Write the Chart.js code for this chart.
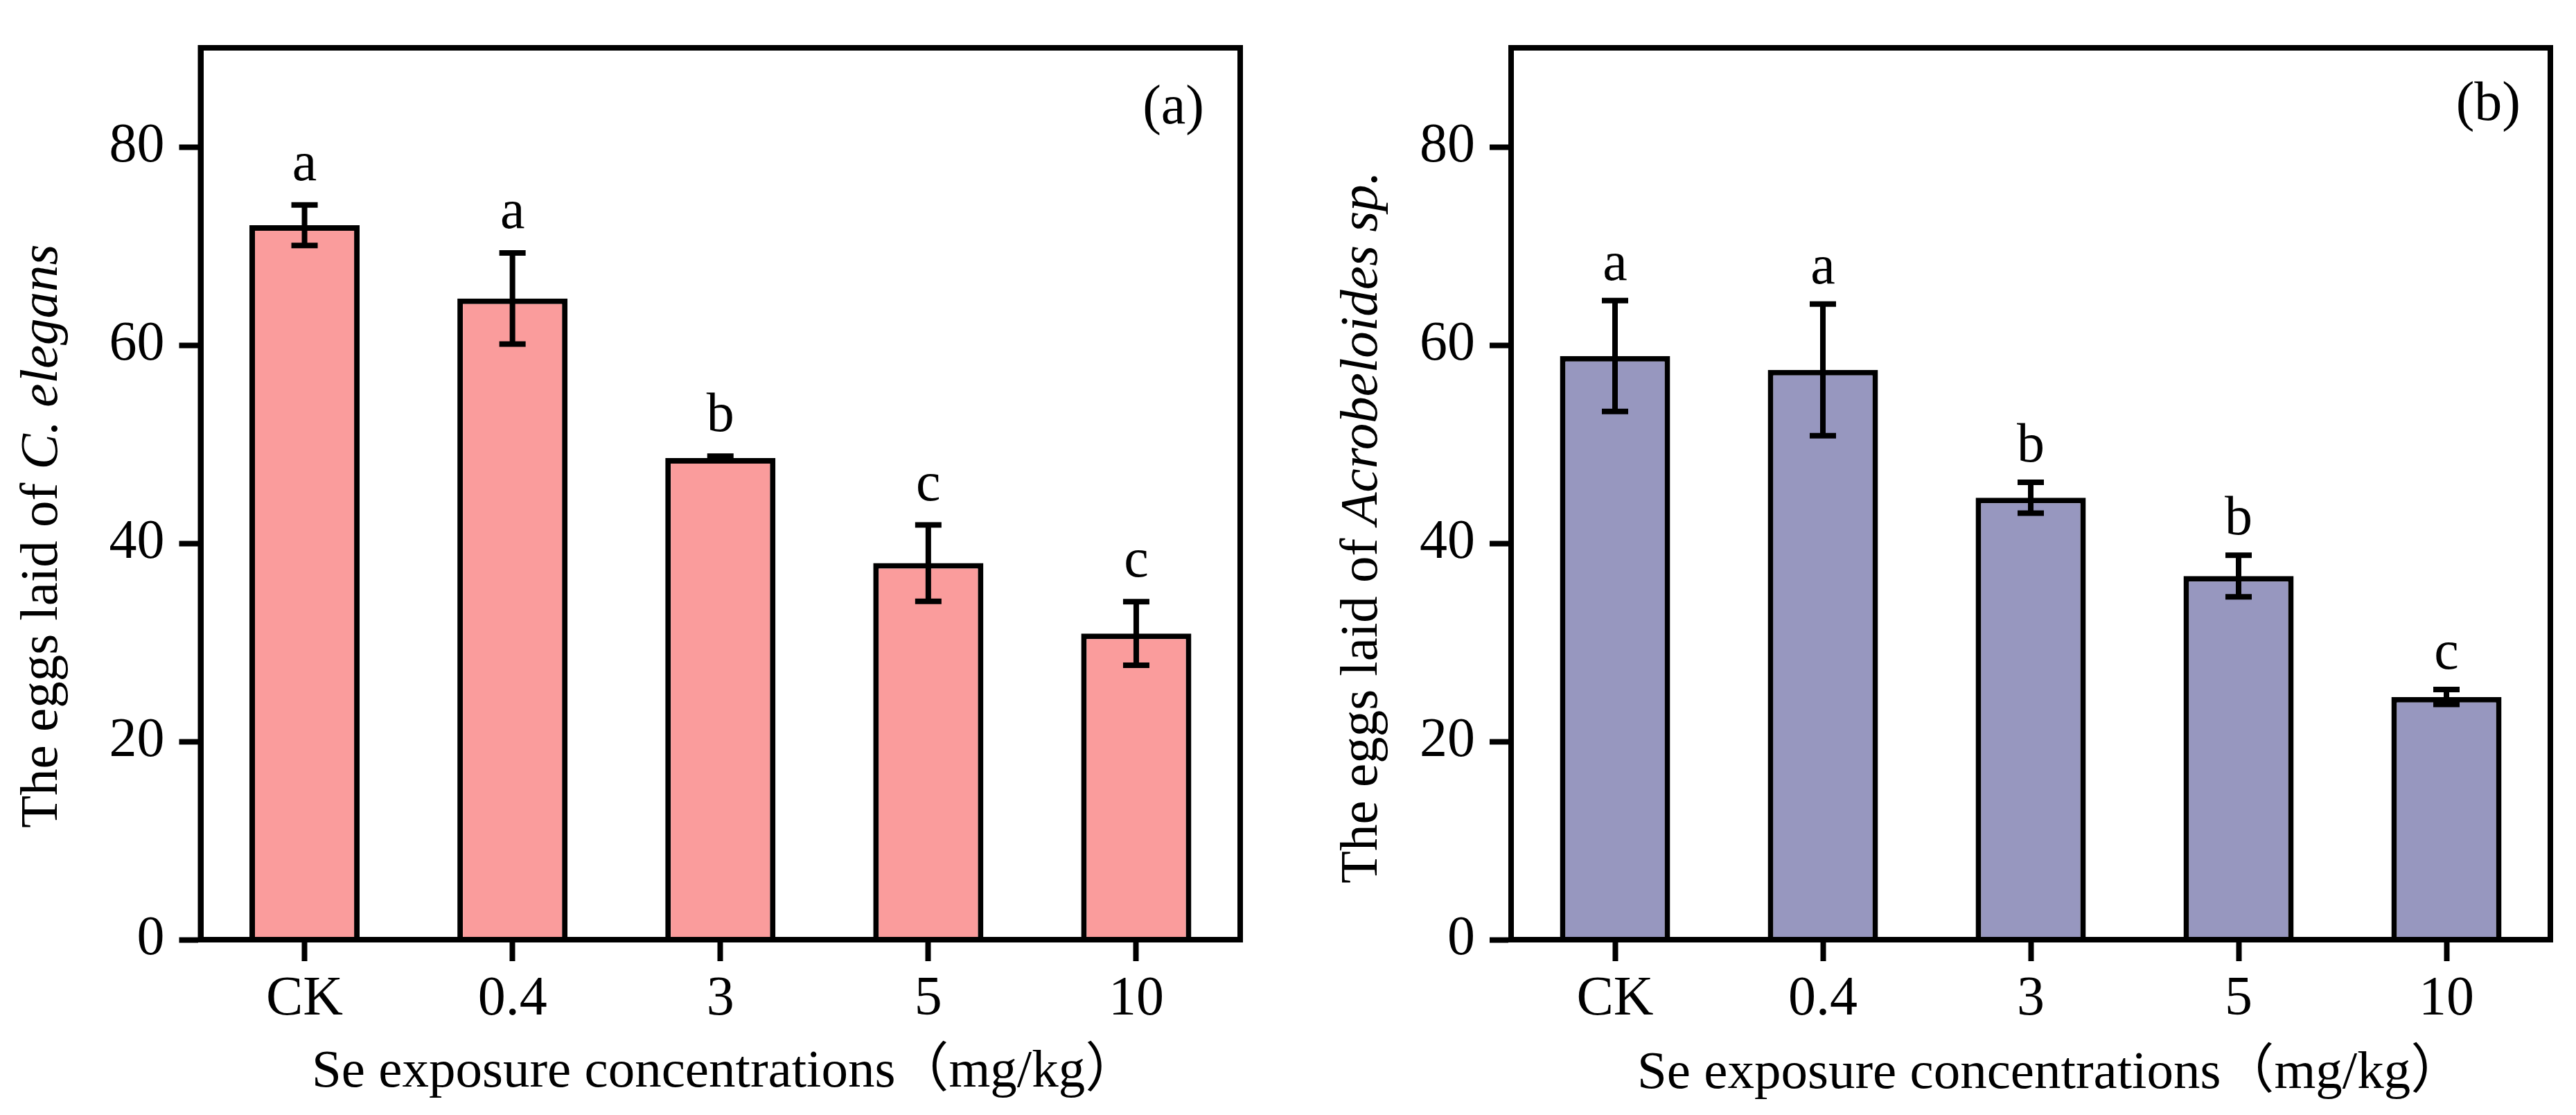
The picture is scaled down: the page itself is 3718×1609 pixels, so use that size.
<!DOCTYPE html>
<html><head><meta charset="utf-8">
<script src="https://cdn.jsdelivr.net/npm/chart.js@4.4.1/dist/chart.umd.min.js"></script>
<style>
html,body{margin:0;padding:0;background:#fff;width:3718px;height:1609px;overflow:hidden}
.wrap{position:absolute;top:0;width:1859px;height:1609px}
canvas{display:block}
</style></head><body>
<div class="wrap" style="left:0"><canvas id="ca" width="1859" height="1609"></canvas></div>
<div class="wrap" style="left:1859px"><canvas id="cb" width="1859" height="1609"></canvas></div>
<script>
// ---- data ----
const categories = ['CK', '0.4', '3', '5', '10'];
const yTickValues = [0, 20, 40, 60, 80];
const yMax = 90;
const eggsElegans = [72.1, 64.7, 48.6, 38.0, 30.9];
const errElegans = [2.05, 4.6, 0.2, 3.85, 3.2];
const lettersElegans = ['a', 'a', 'b', 'c', 'c'];
const eggsAcro = [58.9, 57.5, 44.6, 36.7, 24.5];
const errAcro = [5.6, 6.65, 1.55, 2.1, 0.75];
const lettersAcro = ['a', 'a', 'b', 'b', 'c'];
const xTitle = 'Se exposure concentrations\uFF08mg/kg\uFF09';
const yTitleA = ['The eggs laid of ', 'C. elegans'];
const yTitleB = ['The eggs laid of ', 'Acrobeloides sp.'];

const SERIF = '"Liberation Serif", "Times New Roman", serif';
const SERIF_CJK = '"Liberation Serif", "Noto Sans CJK SC", serif';
const CANVAS_H = 1609;
const LW = 8;

function makePanel(id, opt) {
  const canvas = document.getElementById(id);
  const W = canvas.width;
  const extras = {
    id: 'extras_' + id,
    afterDatasetsDraw(chart) {
      const ctx = chart.ctx;
      const xs = chart.scales.x, ys = chart.scales.y;
      const a = chart.chartArea;
      ctx.save();
      // error bars
      ctx.strokeStyle = '#000';
      ctx.lineWidth = LW;
      ctx.lineCap = 'butt';
      opt.values.forEach((v, i) => {
        const e = opt.errors[i];
        const x = xs.getPixelForValue(i);
        const yT = ys.getPixelForValue(v + e);
        const yB = ys.getPixelForValue(v - e);
        ctx.beginPath();
        ctx.moveTo(x, yT); ctx.lineTo(x, yB);
        ctx.moveTo(x - 19, yT); ctx.lineTo(x + 19, yT);
        ctx.moveTo(x - 19, yB); ctx.lineTo(x + 19, yB);
        ctx.stroke();
        // significance letters
        ctx.fillStyle = '#000';
        ctx.font = '80px ' + SERIF;
        ctx.textAlign = 'center';
        ctx.textBaseline = 'alphabetic';
        ctx.fillText(opt.letters[i], x, yT - opt.letterGap);
      });
      // frame
      ctx.lineWidth = LW;
      ctx.strokeRect(a.left, a.top, a.right - a.left, a.bottom - a.top);
      // panel tag
      ctx.font = '80px ' + SERIF;
      ctx.textAlign = 'right';
      ctx.fillText(opt.tag, opt.tagRight, opt.tagBaseline);
      // x title
      ctx.font = '77px ' + SERIF_CJK;
      ctx.textAlign = 'left';
      ctx.fillText(xTitle, opt.xTitleLeft, opt.xTitleBaseline);
      // y title (mixed normal/italic)
      ctx.translate(opt.yTitleX, opt.yTitleStart);
      ctx.rotate(-Math.PI / 2);
      ctx.textAlign = 'left';
      ctx.font = '77px ' + SERIF;
      ctx.fillText(opt.yTitle[0], 0, 0);
      const w0 = ctx.measureText(opt.yTitle[0]).width;
      ctx.font = 'italic 77px ' + SERIF;
      ctx.fillText(opt.yTitle[1], w0, 0);
      ctx.restore();
    }
  };
  return new Chart(canvas, {
    type: 'bar',
    data: {
      labels: categories,
      datasets: [{
        data: opt.values,
        backgroundColor: opt.color,
        borderColor: '#000',
        borderWidth: LW,
        borderSkipped: 'bottom',
        barPercentage: 0.53,
        categoryPercentage: 1.0
      }]
    },
    options: {
      responsive: false,
      devicePixelRatio: 1,
      animation: false,
      layout: { padding: { top: 63, right: W - opt.chartRight, left: 0, bottom: 0 } },
      plugins: { legend: { display: false }, tooltip: { enabled: false } },
      scales: {
        x: {
          type: 'category',
          offset: true,
          grid: { display: true, offset: false, drawOnChartArea: false, drawTicks: true,
                  tickLength: 31, tickWidth: LW, tickColor: '#000' },
          border: { display: true, color: '#000', width: LW },
          ticks: { color: '#000', font: { family: SERIF, size: 80 }, padding: 8,
                   maxRotation: 0, autoSkip: false },
          afterFit(s) { s.height = CANVAS_H - opt.chartBottom; }
        },
        y: {
          min: 0, max: yMax,
          grid: { display: true, drawOnChartArea: false, drawTicks: true,
                  tickLength: 31, tickWidth: LW, tickColor: '#000' },
          border: { display: true, color: '#000', width: LW },
          ticks: { color: '#000', font: { family: SERIF, size: 80 }, padding: 21 },
          afterBuildTicks(s) { s.ticks = yTickValues.map(v => ({ value: v })); },
          afterFit(s) { s.width = opt.chartLeft; }
        }
      }
    },
    plugins: [extras]
  });
}

makePanel('ca', {
  values: eggsElegans, errors: errElegans, letters: lettersElegans,
  color: '#FA9C9C', tag: '(a)', yTitle: yTitleA,
  chartLeft: 289.5, chartRight: 1790, chartBottom: 1356,
  letterGap: 36, tagRight: 1738, tagBaseline: 178,
  xTitleLeft: 450, xTitleBaseline: 1568,
  yTitleX: 82, yTitleStart: 1195
});
makePanel('cb', {
  values: eggsAcro, errors: errAcro, letters: lettersAcro,
  color: '#9797BF', tag: '(b)', yTitle: yTitleB,
  chartLeft: 322, chartRight: 1822, chartBottom: 1356,
  letterGap: 30, tagRight: 1779, tagBaseline: 173,
  xTitleLeft: 504, xTitleBaseline: 1570,
  yTitleX: 128, yTitleStart: 1275
});
</script>
</body></html>
